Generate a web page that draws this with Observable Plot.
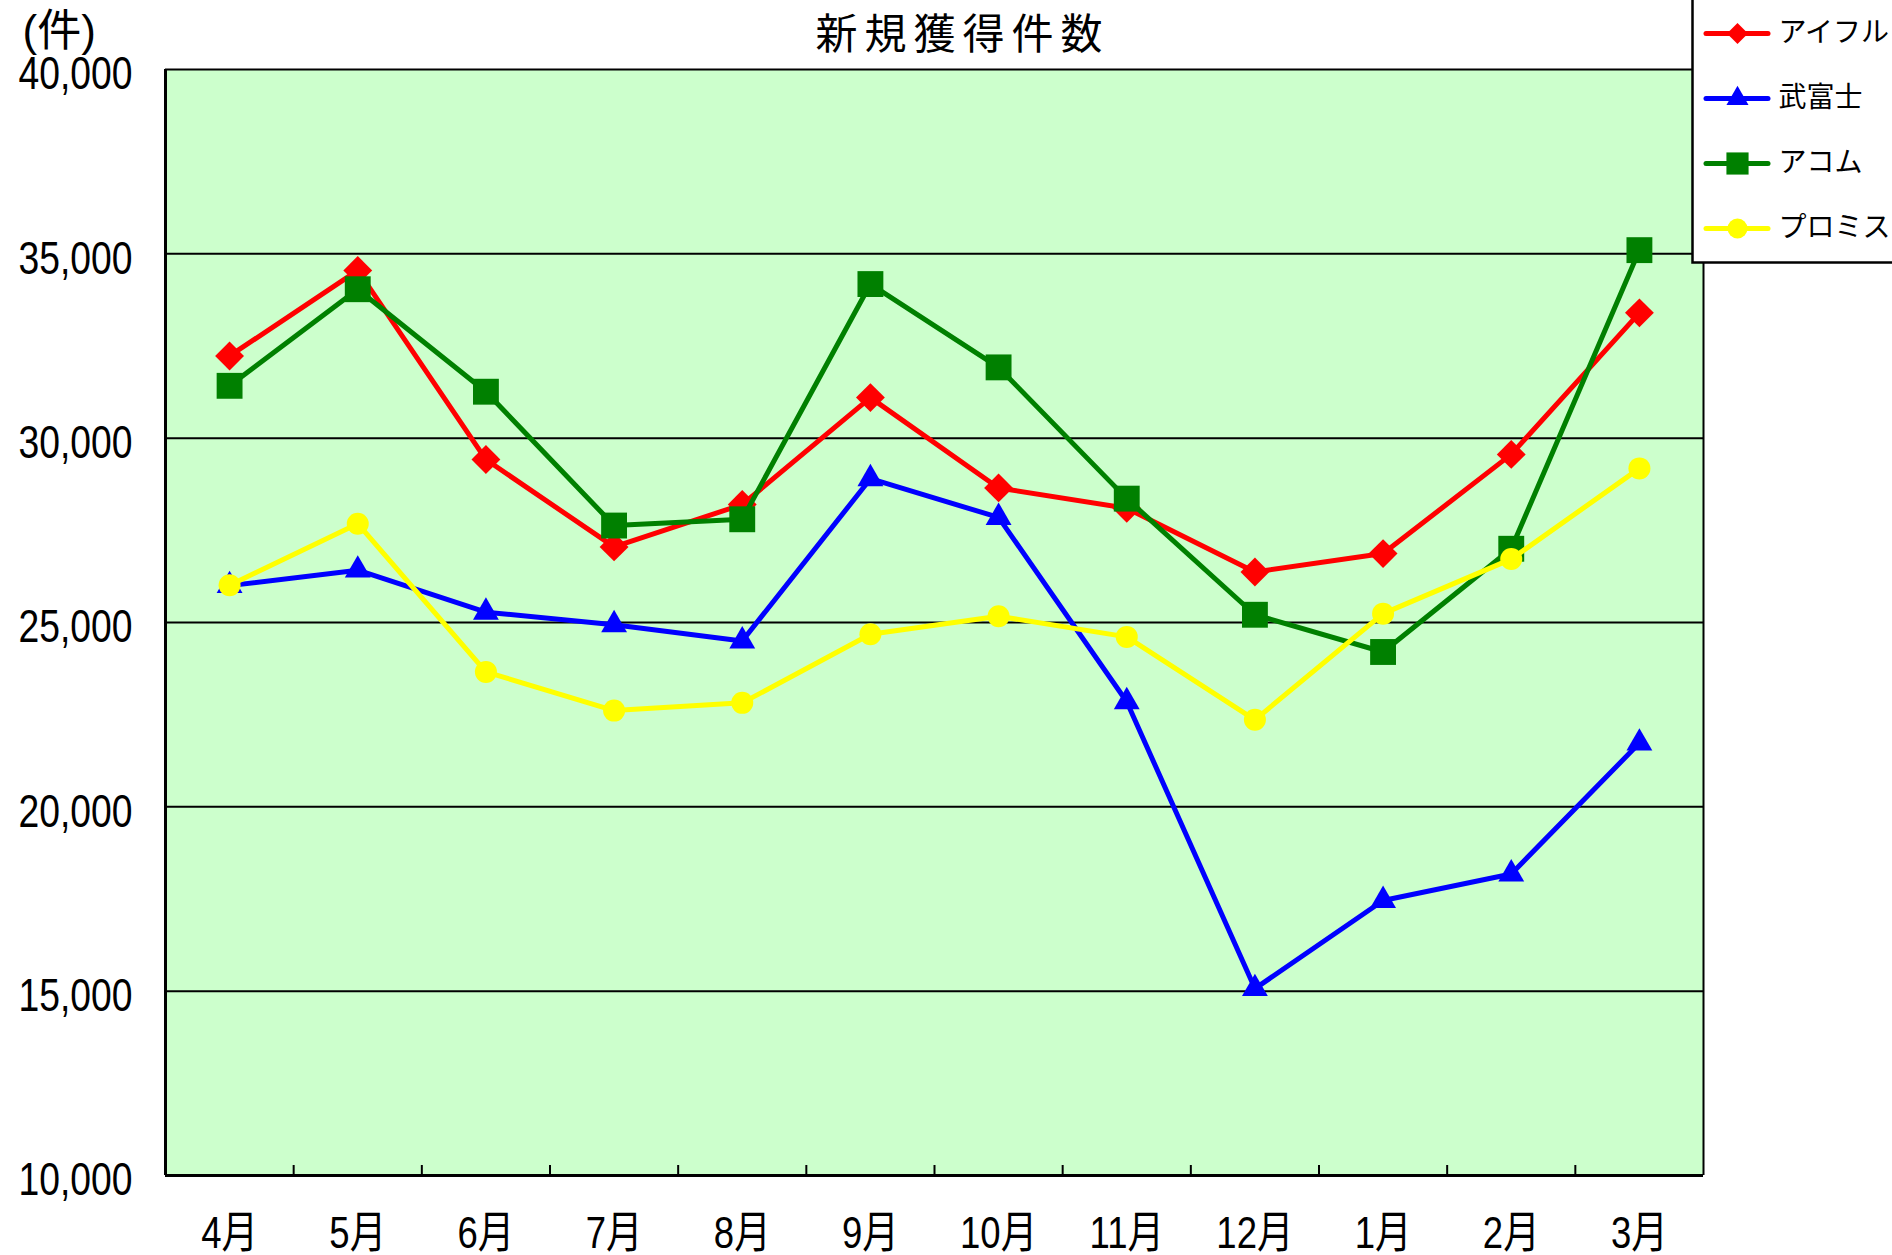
<!DOCTYPE html>
<html>
<head>
<meta charset="utf-8">
<script src="https://cdn.jsdelivr.net/npm/d3@7"></script>
<script src="https://cdn.jsdelivr.net/npm/@observablehq/plot@0.6"></script>
<style>
  html, body { margin: 0; padding: 0; background: white; }
  #wrap { position: relative; width: 1892px; height: 1255px; overflow: hidden; }
  #legend { position: absolute; left: 1692px; top: -2px; }
</style>
</head>
<body>
<div id="wrap"></div>
<script>
const months = ["4月","5月","6月","7月","8月","9月","10月","11月","12月","1月","2月","3月"];
const seriesNames = ["アイフル","武富士","アコム","プロミス"];
const aiful   = [32230, 34550, 29420, 27050, 28200, 31100, 28650, 28100, 26370, 26870, 29560, 33400];
const takefuji= [26000, 26420, 25280, 24940, 24500, 28900, 27850, 22850, 15070, 17460, 18180, 21730];
const acom    = [31420, 34040, 31260, 27630, 27800, 34180, 31920, 28360, 25210, 24200, 27000, 35100];
const promise = [26010, 27680, 23660, 22610, 22820, 24680, 25170, 24610, 22360, 25240, 26720, 29180];
const yTicks = [10000, 15000, 20000, 25000, 30000, 35000, 40000];
const title = "新規獲得件数";
const unitLabel = "(件)";

const colors = ["#FF0000", "#0000FF", "#008000", "#FFFF00"];
const symbols = ["diamond2", "triangle", "square", "circle"];
const radii = [13, 9.6, 14.6, 11];
const legendRadii = [9.5, 8.2, 12.5, 10];

const valuesBySeries = [aiful, takefuji, acom, promise];
const rows = seriesNames.map((s, k) => valuesBySeries[k].map((v, i) => ({series: s, month: months[i], xi: i + 0.5, value: v})));

const numFont = "'Liberation Sans', Arial, 'Noto Sans CJK JP', sans-serif";
const cjkFont = "'Noto Sans CJK JP', 'Noto Sans', sans-serif";
const fmt = d3.format(",");

const seriesMarks = [];
rows.forEach((r, k) => {
  seriesMarks.push(Plot.line(r, {x: "xi", y: "value", stroke: colors[k], strokeWidth: 5, strokeLinejoin: "round", strokeLinecap: "round"}));
  seriesMarks.push(Plot.dot(r, {x: "xi", y: "value", symbol: () => symbols[k], fill: colors[k], stroke: "none", r: radii[k]}));
});

const chart = Plot.plot({
  width: 1892,
  height: 1255,
  marginLeft: 165,
  marginRight: 189,
  marginTop: 69,
  marginBottom: 80,
  x: {domain: [0, 12], axis: null},
  y: {domain: [10000, 40000], axis: null},
  symbol: {type: "identity"},
  style: {background: "white", overflow: "visible"},
  marks: [
    Plot.frame({fill: "#CCFFCC", stroke: "none"}),
    Plot.ruleY(yTicks, {stroke: "black", strokeWidth: 2}),
    Plot.ruleX(d3.range(1, 12), {stroke: "black", strokeWidth: 2, insetTop: 1096}),
    Plot.ruleX([0], {stroke: "black", strokeWidth: 3}),
    Plot.ruleX([12], {stroke: "black", strokeWidth: 2}),
    Plot.ruleY([10000], {stroke: "black", strokeWidth: 3}),
    ...seriesMarks,
    Plot.text(yTicks, {frameAnchor: "left", lineAnchor: "middle", y: d => d, text: d => fmt(d), textAnchor: "end", dx: -33, dy: 5, fontSize: 46, fontFamily: numFont, fill: "black"}),
    Plot.text(months, {x: (d, i) => i + 0.5, frameAnchor: "bottom", lineAnchor: "middle", text: d => d, dy: 58, fontSize: 44, fontFamily: numFont, fill: "black"}),
    Plot.text([title], {frameAnchor: "top", lineAnchor: "middle", text: d => d, dx: 28, dy: -34, fontSize: 42, fontFamily: cjkFont, fill: "black"}),
    Plot.text([unitLabel], {frameAnchor: "top-left", lineAnchor: "middle", text: d => d, textAnchor: "start", dx: -143, dy: -38, fontSize: 44, fontFamily: numFont, fill: "black"})
  ]
});
document.getElementById("wrap").appendChild(chart);

// condense the tick labels horizontally, as in the reference
function condenseEl(t, s) {
  let tr = t.getAttribute("transform") || "";
  const x = t.getAttribute("x");
  if (x != null && x !== "" && !isNaN(+x)) { tr += ` translate(${x},0)`; t.removeAttribute("x"); }
  t.setAttribute("transform", tr + ` scale(${s},1)`);
}
const yLabelSet = new Set(yTicks.map(fmt));
const xLabelSet = new Set(months);
chart.querySelectorAll("text").forEach(t => {
  const s = t.textContent;
  if (yLabelSet.has(s)) condenseEl(t, 0.81);
  else if (xLabelSet.has(s)) condenseEl(t, 0.83);
  else if (s === title) t.setAttribute("letter-spacing", "7");
});

// legend as its own small plot
const legend = Plot.plot({
  width: 202,
  height: 264,
  margin: 0,
  x: {domain: [0, 202], range: [0, 202], axis: null},
  y: {type: "point", domain: seriesNames, range: [34, 230], padding: 0, axis: null},
  symbol: {type: "identity"},
  style: {background: "white", overflow: "visible"},
  marks: [
    Plot.frame({fill: "white", stroke: "black", strokeWidth: 2.5}),
    Plot.ruleY(seriesNames, {y: d => d, x1: 14, x2: 76, stroke: (d, i) => colors[i], strokeWidth: 5, strokeLinecap: "round"}),
    ...seriesNames.map((s, k) => Plot.dot([s], {x: 45, y: d => d, symbol: () => symbols[k], fill: colors[k], r: legendRadii[k]})),
    Plot.text(seriesNames, {x: 86, y: d => d, text: d => d, textAnchor: "start", fontSize: 28, fontFamily: cjkFont, fill: "black"})
  ]
});
legend.id = "legend";
document.getElementById("wrap").appendChild(legend);
</script>
</body>
</html>
